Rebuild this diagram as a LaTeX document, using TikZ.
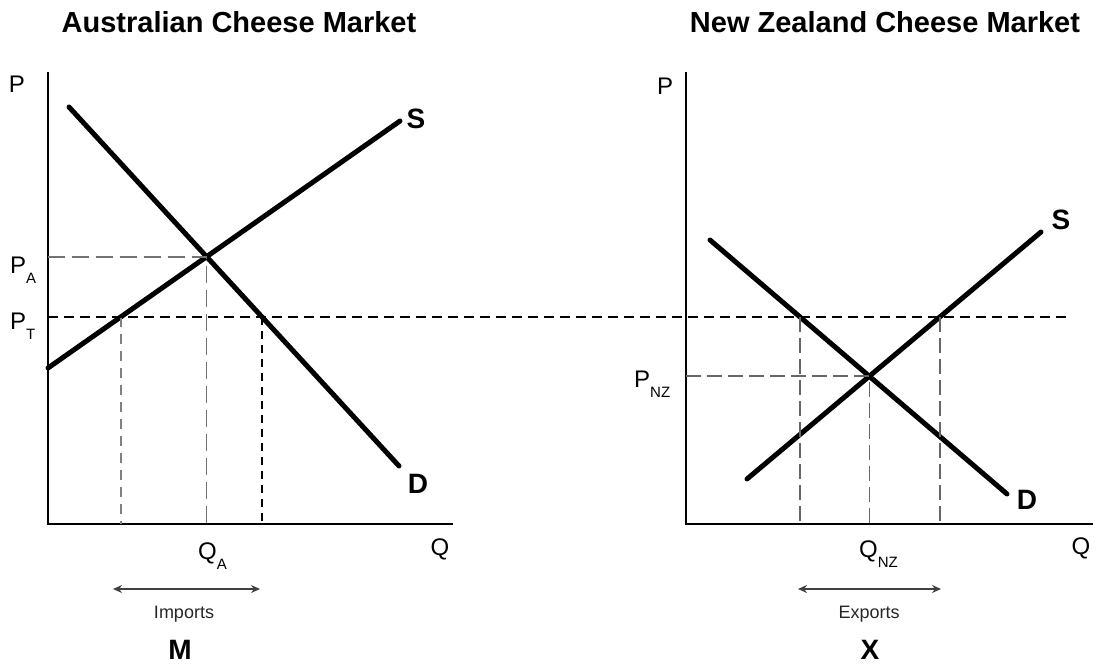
\documentclass[tikz,border=0pt]{standalone}
\usepackage{fontspec}
\setmainfont{Liberation Sans}
\usetikzlibrary{arrows.meta}
\newcommand\lowsub[1]{\raisebox{-10pt}{\fontsize{15}{15}\selectfont #1}}
\begin{document}
\begin{tikzpicture}[x=1pt,y=-1pt,
  curve/.style={line width=5pt, line cap=round},
  axisline/.style={line width=2.5pt},
  tradeline/.style={line width=2pt, dash pattern=on 10pt off 6pt},
  greydash/.style={line width=1.6pt, draw=black!55, dash pattern=on 17pt off 7pt},
  greyshort/.style={line width=2pt, draw=black!50, dash pattern=on 10pt off 7pt},
  blackshort/.style={line width=1.2pt, dash pattern=on 8pt off 6pt},
  nzdash/.style={line width=1.6pt, draw=black!60, dash pattern=on 15pt off 6pt},
  flow/.style={line width=1.4pt, draw=black!75, {Stealth[length=9pt,width=8pt]}-{Stealth[length=9pt,width=8pt]}},
  title/.style={font=\fontsize{29}{29}\selectfont\bfseries, inner sep=0pt},
  axlabel/.style={font=\fontsize{24}{24}\selectfont, inner sep=0pt},
  curvelabel/.style={font=\fontsize{28}{28}\selectfont\bfseries, inner sep=0pt},
  small/.style={font=\fontsize{18}{18}\selectfont, text=black!85, inner sep=0pt}
]
\useasboundingbox (0,0) rectangle (1097,668);

% ---------- Australian market ----------
\node[title] (tA) at (239,22) {Australian Cheese Market};
\coordinate (oA) at (48,524);
\coordinate (yA) at (48,72);
\coordinate (xA) at (453,524);
\draw[axisline] (yA) -- (oA) -- (xA);
\node[axlabel] (pA) at (17,84) {P};
\node[axlabel] (qA) at (440,549) {Q};

\coordinate (dA1) at (69,107);
\coordinate (dA2) at (399,466);
\coordinate (sA1) at (48,368);
\coordinate (sA2) at (400,121);
\draw[curve] (dA1) -- (dA2);
\draw[curve] (sA1) -- (sA2);
\node[curvelabel] (sAl) at (416,119) {S};
\node[curvelabel] (dAl) at (418,484) {D};

\coordinate (tL) at (48,317);
\coordinate (tR) at (1072,317);
\coordinate (eA) at (intersection of dA1--dA2 and sA1--sA2);
\coordinate (tsA) at (intersection of sA1--sA2 and tL--tR);
\coordinate (tdA) at (intersection of dA1--dA2 and tL--tR);
\coordinate (peA) at (oA |- eA);
\coordinate (qeA) at (eA |- oA);
\coordinate (qsA) at (tsA |- oA);
\coordinate (qdA) at (tdA |- oA);
\draw[greydash] (peA) -- (eA) -- (qeA);
\draw[greyshort] (tsA) -- (qsA);
\draw[blackshort] (tdA) -- (qdA);

\node[axlabel, anchor=base west] (paL) at (10,273) {P\lowsub{A}};
\node[axlabel, anchor=base west] (ptL) at (10,329) {P\lowsub{T}};
\node[axlabel, anchor=base west] (qaL) at (198,559) {Q\lowsub{A}};

\coordinate (mL) at (113,589);
\coordinate (mR) at (260,589);
\draw[flow] (mL) -- (mR);
\node[small] (imp) at (184,614) {Imports};
\node[curvelabel] (mlab) at (180,650) {M};

% ---------- World price line ----------
\draw[tradeline] (tL) -- (tR);

% ---------- New Zealand market ----------
\node[title] (tN) at (885,22) {New Zealand Cheese Market};
\coordinate (oN) at (686,524);
\coordinate (yN) at (686,72);
\coordinate (xN) at (1093,524);
\draw[axisline] (yN) -- (oN) -- (xN);
\node[axlabel] (pN) at (665,86) {P};
\node[axlabel] (qN) at (1081,548) {Q};

\coordinate (dN1) at (710,240);
\coordinate (dN2) at (1007,494);
\coordinate (sN1) at (747,479);
\coordinate (sN2) at (1041,232);
\draw[curve] (dN1) -- (dN2);
\draw[curve] (sN1) -- (sN2);
\node[curvelabel] (sNl) at (1061,220) {S};
\node[curvelabel] (dNl) at (1027,500) {D};

\coordinate (eN) at (intersection of dN1--dN2 and sN1--sN2);
\coordinate (tdN) at (intersection of dN1--dN2 and tL--tR);
\coordinate (tsN) at (intersection of sN1--sN2 and tL--tR);
\coordinate (peN) at (oN |- eN);
\coordinate (qeN) at (eN |- oN);
\coordinate (qdN) at (tdN |- oN);
\coordinate (qsN) at (tsN |- oN);
\draw[nzdash] (peN) -- (eN) -- (qeN);
\draw[nzdash] (tdN) -- (qdN);
\draw[nzdash] (tsN) -- (qsN);

\node[axlabel, anchor=base west] (pnzL) at (634,387) {P\lowsub{NZ}};
\node[axlabel, anchor=base west] (qnzL) at (859,557) {Q\lowsub{NZ}};

\coordinate (xL) at (798,589);
\coordinate (xR) at (941,589);
\draw[flow] (xL) -- (xR);
\node[small] (exp) at (869,614) {Exports};
\node[curvelabel] (xlab) at (870,650) {X};
\end{tikzpicture}
\end{document}
